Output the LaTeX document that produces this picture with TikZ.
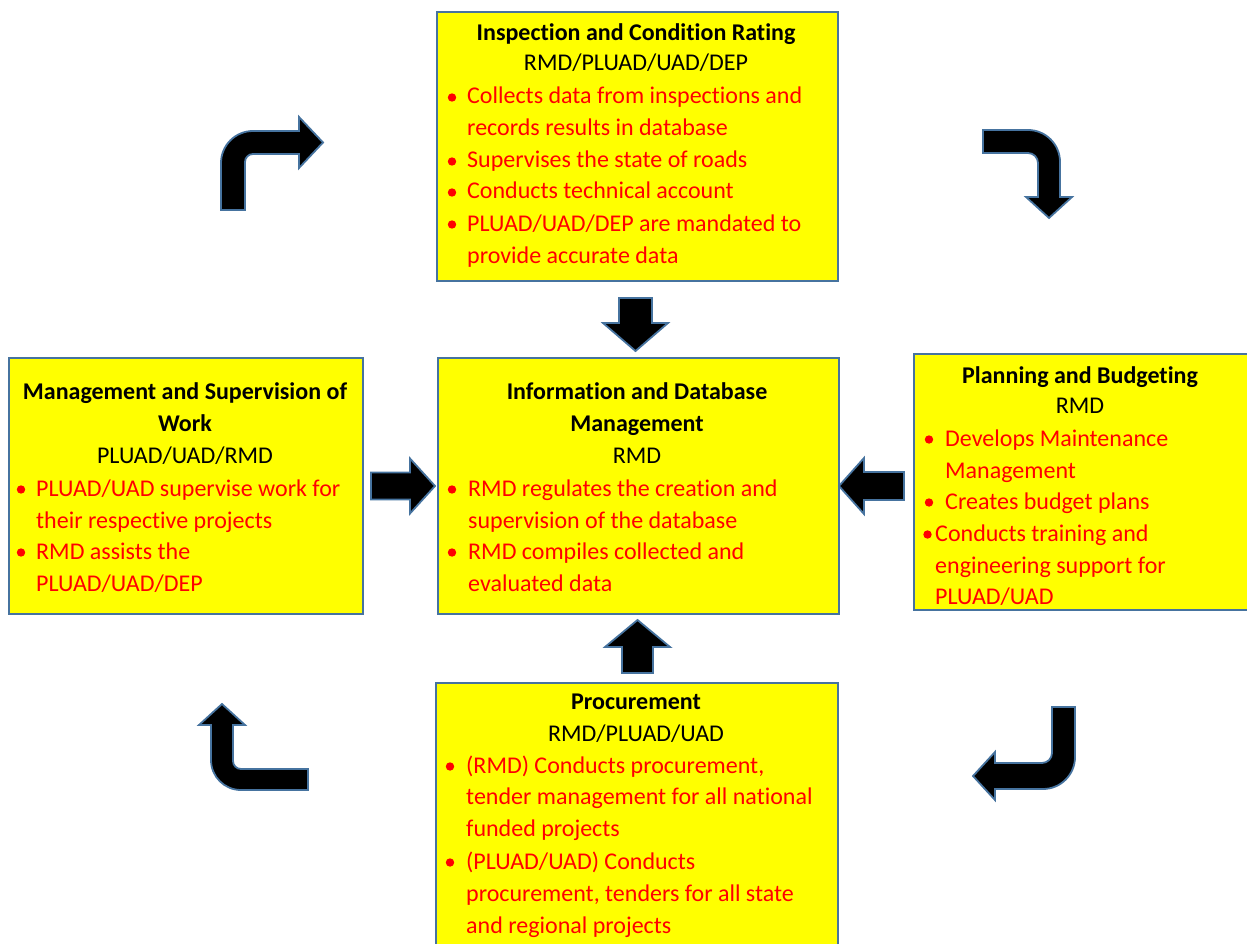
\documentclass[tikz,border=0pt]{standalone}
\usepackage{fontspec}
\setmainfont{Carlito}[Ligatures={NoCommon}]
\definecolor{boxfill}{HTML}{FFFF00}
\definecolor{edgeblue}{HTML}{46739F}
\definecolor{itemred}{HTML}{FF0000}
\tikzset{
  panel/.style={draw=edgeblue, line width=2.2pt, fill=boxfill, inner sep=0pt, anchor=north west},
  heading/.style={anchor=base, inner sep=0pt, font=\fontsize{24}{29}\selectfont\bfseries},
  owner/.style={anchor=base, inner sep=0pt, font=\fontsize{24}{29}\selectfont},
  item/.style={anchor=base west, inner sep=0pt, text=itemred, font=\fontsize{24}{29}\selectfont},
  blockshape/.style={draw=edgeblue, line width=1.8pt, fill=black, line join=miter},
  pics/blockarrow/.style n args={4}{code={
    % length, head base, shaft width, head width; drawn pointing along +x
    \draw[blockshape] (0,-#3/2) -- (#2,-#3/2) -- (#2,-#4/2) -- (#1,0)
      -- (#2,#4/2) -- (#2,#3/2) -- (0,#3/2) -- cycle;
  }}
}
\newcommand{\dotat}[2]{\fill[itemred] (#1,#2-6.5) circle (4.2);}
\begin{document}
\begin{tikzpicture}[x=1pt,y=-1pt]
\useasboundingbox (0,0) rectangle (1247,944);

% ---- panels ----
\node[panel, minimum width=401, minimum height=269] (insp) at (436,11) {};
\node[panel, minimum width=401, minimum height=256] (info) at (437,357) {};
\node[panel, minimum width=354, minimum height=256] (mgmt) at (8,357) {};
\node[panel, minimum width=340, minimum height=256] (plan) at (913,353) {};
\node[panel, minimum width=402, minimum height=270] (proc) at (435,682) {};

% ---- Inspection and Condition Rating ----
\node[heading] (inspT) at (636,41) {Inspection and Condition Rating};
\node[owner] (inspO) at (636,71) {RMD/PLUAD/UAD/DEP};
\node[item] (inspA) at (467,104) {Collects data from inspections and};
\node[item] (inspB) at (467,136) {records results in database};
\node[item] (inspC) at (467,168) {Supervises the state of roads};
\node[item] (inspD) at (467,199) {Conducts technical account};
\node[item] (inspE) at (467,231) {PLUAD/UAD/DEP are mandated to};
\node[item] (inspF) at (467,263) {provide accurate data};
\dotat{452}{104} \dotat{452}{168} \dotat{452}{199} \dotat{452}{231}

% ---- Information and Database Management ----
\node[heading] (infoT) at (637,399) {Information and Database};
\node[heading] (infoU) at (637,431) {Management};
\node[owner] (infoO) at (637,463) {RMD};
\node[item] (infoA) at (468,496) {RMD regulates the creation and};
\node[item] (infoB) at (468,528) {supervision of the database};
\node[item] (infoC) at (468,559) {RMD compiles collected and};
\node[item] (infoD) at (468,591) {evaluated data};
\dotat{452}{496} \dotat{452}{559}

% ---- Management and Supervision of Work ----
\node[heading] (mgmtT) at (185,399) {Management and Supervision of};
\node[heading] (mgmtU) at (185,431) {Work};
\node[owner] (mgmtO) at (185,463) {PLUAD/UAD/RMD};
\node[item] (mgmtA) at (36,496) {PLUAD/UAD supervise work for};
\node[item] (mgmtB) at (36,528) {their respective projects};
\node[item] (mgmtC) at (36,559) {RMD assists the};
\node[item] (mgmtD) at (36,591) {PLUAD/UAD/DEP};
\dotat{21}{496} \dotat{21}{559}

% ---- Planning and Budgeting ----
\node[heading] (planT) at (1080,383) {Planning and Budgeting};
\node[owner] (planO) at (1080,413) {RMD};
\node[item] (planA) at (945,446) {Develops Maintenance};
\node[item] (planB) at (945,478) {Management};
\node[item] (planC) at (945,509) {Creates budget plans};
\node[item] (planD) at (935,541) {Conducts training and};
\node[item] (planE) at (935,573) {engineering support for};
\node[item] (planF) at (935,604) {PLUAD/UAD};
\dotat{929}{446} \dotat{929}{509} \dotat{927.5}{541}

% ---- Procurement ----
\node[heading] (procT) at (636,709) {Procurement};
\node[owner] (procO) at (636,741) {RMD/PLUAD/UAD};
\node[item] (procA) at (466,773) {(RMD) Conducts procurement,};
\node[item] (procB) at (466,804) {tender management for all national};
\node[item] (procC) at (466,836) {funded projects};
\node[item] (procD) at (466,869) {(PLUAD/UAD) Conducts};
\node[item] (procE) at (466,901) {procurement, tenders for all state};
\node[item] (procF) at (466,933) {and regional projects};
\dotat{450}{773} \dotat{450}{869}

% ---- straight block arrows into the central panel ----
\pic[rotate=-90] at (635.5,298) {blockarrow={53}{25}{33}{65}};
\pic[rotate=90]  at (637.5,673) {blockarrow={53}{26}{31}{65}};
\pic             at (371,486)   {blockarrow={64}{39}{27}{55}};
\pic[rotate=180] at (904,486)   {blockarrow={65}{40}{28}{56}};

% ---- bent arrows of the outer cycle ----
\draw[blockshape] (221,210) -- (221,163) .. controls (221,145.3) and (235.3,131) .. (253,131)
  -- (299,131) -- (299,117) -- (323,142.5) -- (299,168) -- (299,154) -- (253,154)
  .. controls (248.6,154) and (245,157.6) .. (245,162) -- (245,210) -- cycle;
\draw[blockshape] (983,130) -- (1028,130) .. controls (1045.7,130) and (1060,144.3) .. (1060,162)
  -- (1060,197) -- (1072,197) -- (1049,218) -- (1026,197) -- (1038,197) -- (1038,163)
  .. controls (1038,157.5) and (1033.5,153) .. (1028,153) -- (983,153) -- cycle;
\draw[blockshape] (308,769) -- (241,769) .. controls (236.6,769) and (233,765.4) .. (233,761)
  -- (233,725) -- (245,725) -- (222,704) -- (199,725) -- (211,725) -- (211,760)
  .. controls (211,776.6) and (224.4,790) .. (241,790) -- (308,790) -- cycle;
\draw[blockshape] (1052,707) -- (1075,707) -- (1075,757) .. controls (1075,774.7) and (1060.7,789) .. (1043,789)
  -- (995,789) -- (995,800) -- (973,776) -- (995,752) -- (995,763) -- (1042,763)
  .. controls (1047.5,763) and (1052,758.5) .. (1052,753) -- cycle;
\end{tikzpicture}
\end{document}
